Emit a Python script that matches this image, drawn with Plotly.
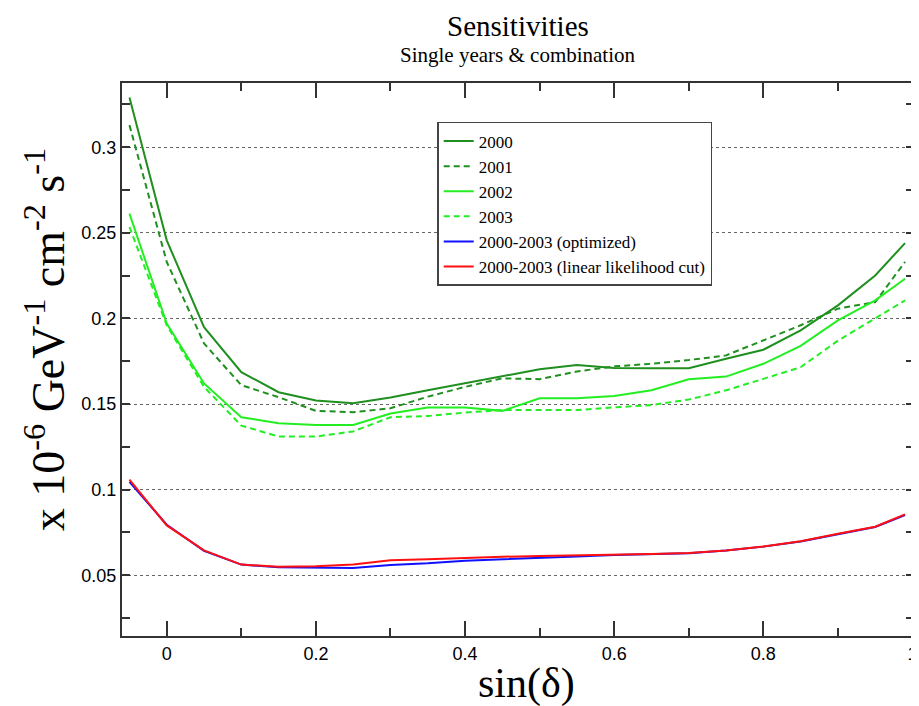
import plotly.graph_objects as go

sin_delta = [-0.05, 0.0, 0.05, 0.1, 0.15, 0.2, 0.25, 0.3, 0.35, 0.4, 0.45, 0.5,
             0.55, 0.6, 0.65, 0.7, 0.75, 0.8, 0.85, 0.9, 0.95, 0.99]

y2000 = [0.329, 0.2456, 0.1949, 0.1686, 0.1569, 0.152, 0.1505, 0.1538, 0.158, 0.162, 0.166,
         0.1703, 0.1728, 0.171, 0.1709, 0.1709, 0.1764, 0.1817, 0.193, 0.2076, 0.2251, 0.244]
y2001 = [0.3129, 0.233, 0.1854, 0.161, 0.154, 0.146, 0.1452, 0.1475, 0.1543, 0.160, 0.165,
         0.1645, 0.169, 0.172, 0.1735, 0.1757, 0.1784, 0.1871, 0.196, 0.2057, 0.2095, 0.233]
y2002 = [0.2612, 0.197, 0.162, 0.1423, 0.1388, 0.1377, 0.1377, 0.1444, 0.148, 0.148, 0.146,
         0.1533, 0.1533, 0.1547, 0.158, 0.1644, 0.166, 0.1735, 0.184, 0.1988, 0.2105, 0.2232]
y2003 = [0.2534, 0.196, 0.160, 0.1374, 0.131, 0.131, 0.134, 0.1423, 0.143, 0.145, 0.1465,
         0.1465, 0.1465, 0.148, 0.1494, 0.1526, 0.158, 0.1647, 0.1715, 0.187, 0.1998, 0.2105]
y_optimized = [0.1045, 0.0795, 0.0642, 0.0562, 0.0546, 0.0542, 0.0542, 0.0560, 0.0570, 0.0585, 0.0592,
               0.0602, 0.0610, 0.0618, 0.0622, 0.0628, 0.0644, 0.0667, 0.0697, 0.0741, 0.0782, 0.0852]
y_linear = [0.1058, 0.0791, 0.0645, 0.0562, 0.0550, 0.0553, 0.0562, 0.0588, 0.0594, 0.0602, 0.0608,
            0.0612, 0.0615, 0.0620, 0.0624, 0.0630, 0.0645, 0.0668, 0.0698, 0.0742, 0.0783, 0.0855]

x_ticks = [0, 0.2, 0.4, 0.6, 0.8, 1.0]
x_labels = ["0", "0.2", "0.4", "0.6", "0.8", "1"]
y_ticks = [0.05, 0.1, 0.15, 0.2, 0.25, 0.3]
y_labels = ["0.05", "0.1", "0.15", "0.2", "0.25", "0.3"]

series_names = ["2000", "2001", "2002", "2003",
                "2000-2003 (optimized)", "2000-2003 (linear likelihood cut)"]

DARK = "#1f8f1f"
BRIGHT = "#22ee22"
styles = [
    (y2000, DARK, "solid"),
    (y2001, DARK, "6px,4px"),
    (y2002, BRIGHT, "solid"),
    (y2003, BRIGHT, "6px,4px"),
    (y_optimized, "#1010ff", "solid"),
    (y_linear, "#ff1010", "solid"),
]

fig = go.Figure()
for name, (ys, col, dash) in zip(series_names, styles):
    fig.add_trace(go.Scatter(x=sin_delta, y=ys, mode="lines", name=name,
                             line=dict(color=col, width=2, dash=dash)))

SERIF = "Liberation Serif"
SANS = "Liberation Sans"

# the page body adds an 8px offset, so the figure is sized to fit the 919x706 window
fig.update_layout(
    width=911, height=698,
    margin=dict(l=114, r=5, t=75, b=70, autoexpand=False),
    paper_bgcolor="white", plot_bgcolor="white",
    showlegend=True,
    legend=dict(x=0.398, y=0.9295, xanchor="left", yanchor="top",
                bgcolor="white", bordercolor="#444", borderwidth=1.5,
                font=dict(family=SERIF, size=17, color="black"),
                tracegroupgap=0),
    xaxis=dict(range=[-0.06, 1.002], tickmode="array", tickvals=x_ticks, ticktext=x_labels,
               showgrid=False, zeroline=False, automargin=False,
               showline=True, linecolor="#333", linewidth=2, mirror="allticks",
               ticks="inside", ticklen=15, tickwidth=1.5, tickcolor="#333",
               minor=dict(dtick=0.1, tick0=0, ticks="inside", ticklen=8, tickwidth=1.5,
                          tickcolor="#333", showgrid=False),
               tickfont=dict(family=SANS, size=18, color="black")),
    yaxis=dict(range=[0.0145, 0.3375], tickmode="array", tickvals=y_ticks, ticktext=y_labels,
               showgrid=True, automargin=False,
               gridcolor="#666", griddash="dot", gridwidth=1, zeroline=False,
               showline=True, linecolor="#333", linewidth=2, mirror="allticks",
               ticks="inside", ticklen=8, tickwidth=1.5, tickcolor="#333",
               minor=dict(dtick=0.025, tick0=0, ticks="inside", ticklen=8, tickwidth=1.5,
                          tickcolor="#333", showgrid=False),
               tickfont=dict(family=SANS, size=18, color="black")),
    annotations=[
        dict(text="Sensitivities", x=0.5, y=1.103, xref="paper", yref="paper",
             xanchor="center", yanchor="middle", showarrow=False,
             font=dict(family=SERIF, size=29, color="black")),
        dict(text="Single years &amp; combination", x=0.5, y=1.0506, xref="paper", yref="paper",
             xanchor="center", yanchor="middle", showarrow=False,
             font=dict(family=SERIF, size=21, color="black")),
        dict(text="x 10<sup>-6</sup> GeV<sup>-1</sup> cm<sup>-2</sup> s<sup>-1</sup>",
             x=-0.0972, y=0.535, xref="paper", yref="paper", textangle=-90,
             xanchor="center", yanchor="middle", showarrow=False,
             font=dict(family=SERIF, size=46, color="black")),
        dict(text="sin(δ)", x=0.511, y=-0.086, xref="paper", yref="paper",
             xanchor="center", yanchor="middle", showarrow=False,
             font=dict(family=SERIF, size=42, color="black")),
    ],
)

fig.write_html("out.html")
